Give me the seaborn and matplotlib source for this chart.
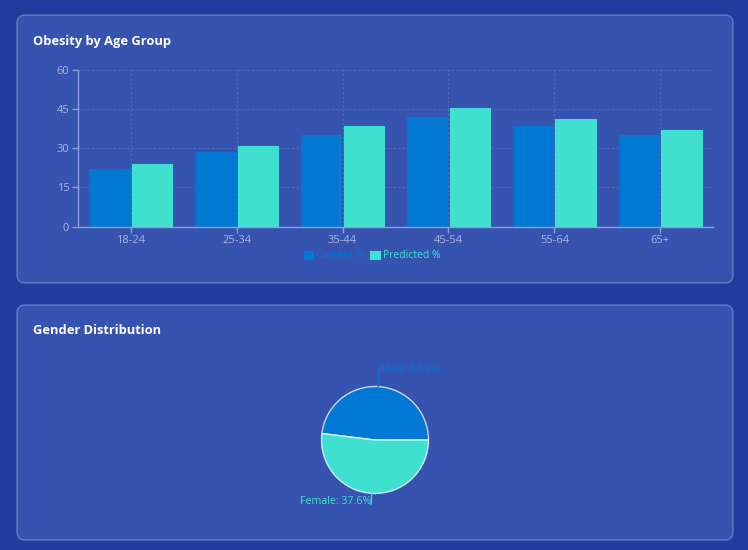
import numpy as np
import pandas as pd
import matplotlib
matplotlib.use("Agg")
import matplotlib.pyplot as plt
from matplotlib.patches import FancyBboxPatch
import seaborn as sns

# ---- data ----
age_groups = ["18-24", "25-34", "35-44", "45-54", "55-64", "65+"]
current_pct = [22.1, 28.4, 35.0, 41.8, 38.5, 34.9]
predicted_pct = [24.0, 30.8, 38.5, 45.4, 41.0, 36.8]
series_names = ["Current %", "Predicted %"]
y_ticks = [0, 15, 30, 45, 60]

gender_labels = ["Male", "Female"]
gender_values = [34.8, 37.6]

# ---- style ----
sns.set_theme(style="white")
plt.rcParams["font.family"] = ["Open Sans", "DejaVu Sans"]

BG = "#1f3c9e"
PANEL = "#3753b0"
C_CUR = "#0078d4"
C_PRED = "#40e0d0"
TICK_C = "#a9b5de"
SPINE_C = "#8d9dd8"

W, H = 748, 550
fig = plt.figure(figsize=(W / 100, H / 100), dpi=100, facecolor=BG)

# background axes in pixel coordinates
bg = fig.add_axes([0, 0, 1, 1], zorder=0)
bg.set_xlim(0, W)
bg.set_ylim(H, 0)
bg.axis("off")
bg.set_facecolor(BG)
for (x0, y0, w, h) in [(17, 15, 716, 268), (17, 305, 716, 235)]:
    bg.add_patch(FancyBboxPatch((x0, y0), w, h,
                                boxstyle="round,pad=0,rounding_size=8",
                                fc=PANEL, ec=(1, 1, 1, 0.28), lw=1))
bg.text(33, 41, "Obesity by Age Group", color="white", fontsize=9.3,
        fontweight="bold", va="center", ha="left")
bg.text(33, 331, "Gender Distribution", color="white", fontsize=9.3,
        fontweight="bold", va="center", ha="left")

# ---- bar chart ----
df = pd.DataFrame({
    "age": age_groups * 2,
    "value": current_pct + predicted_pct,
    "series": [series_names[0]] * len(age_groups) + [series_names[1]] * len(age_groups),
})

ax = fig.add_axes([77.7 / W, 1 - 226.7 / H, (713.3 - 77.7) / W, (226.7 - 69.5) / H], zorder=1)
ax.set_facecolor("none")
sns.barplot(data=df, x="age", y="value", hue="series", order=age_groups,
            hue_order=series_names, palette=[C_CUR, C_PRED], width=0.8, gap=0.05,
            saturation=1, ax=ax, legend=True, linewidth=0.8)
for i, cont in enumerate(ax.containers):
    col = [C_CUR, C_PRED][i]
    for p in cont:
        p.set_edgecolor(col)
        p.set_zorder(3)

ax.set_xlim(-0.5, len(age_groups) - 0.5)
ax.set_ylim(0, 60)
ax.set_yticks(y_ticks)
ax.set_xlabel("")
ax.set_ylabel("")
ax.grid(True, color="white", alpha=0.13, linestyle=(0, (2, 2)), linewidth=0.8)
ax.set_axisbelow(True)
ax.axvline(len(age_groups) - 0.5, color="white", alpha=0.13, linestyle=(0, (2, 2)),
           linewidth=0.8, zorder=0.5)
for s in ["top", "right"]:
    ax.spines[s].set_visible(False)
for s in ["left", "bottom"]:
    ax.spines[s].set_color(SPINE_C)
    ax.spines[s].set_linewidth(1)
    ax.spines[s].set_zorder(4)
ax.tick_params(axis="both", colors=SPINE_C, labelcolor=TICK_C, labelsize=8,
               length=4, width=1, pad=2, left=True, bottom=True)

handles, labels = ax.get_legend_handles_labels()
ax.get_legend().remove()
leg = ax.legend(handles, labels, loc="center", bbox_to_anchor=(372 / W, 1 - 256 / H),
                bbox_transform=fig.transFigure, ncol=2, frameon=False,
                handlelength=0.9, handleheight=0.7, handletextpad=0.3,
                columnspacing=0.5, fontsize=7.5)
for t, h, c in zip(leg.get_texts(), leg.legend_handles, [C_CUR, C_PRED]):
    t.set_color(c)
    h.set_edgecolor(c)
    h.set_facecolor(c)

# ---- pie chart ----
cx, cy, r = 375, 440, 53.5
pax = fig.add_axes([(cx - r) / W, 1 - (cy + r) / H, 2 * r / W, 2 * r / H], zorder=1)
wedges, _ = pax.pie(gender_values, colors=[C_CUR, C_PRED], startangle=0,
                    counterclock=True, radius=1,
                    wedgeprops=dict(edgecolor=(1, 1, 1, 0.75), linewidth=1))
for wdg in wedges:
    wdg.set_clip_on(False)
pax.set_xlim(-1, 1)
pax.set_ylim(-1, 1)
pax.set_aspect("equal")

total = sum(gender_values)
label_dist = [1.32, 1.16]
start = 0.0
for i, (lab, val) in enumerate(zip(gender_labels, gender_values)):
    span = 360.0 * val / total
    mid = np.deg2rad(start + span / 2)
    start += span
    ex, ey = np.cos(mid), np.sin(mid)
    d = label_dist[i]
    col = [C_CUR, C_PRED][i]
    pax.plot([ex, ex * (d + 0.05)], [ey, ey * (d + 0.05)], color=col, lw=0.9, clip_on=False)
    pax.text(ex * d + (0.02 if ex > 0 else 0.0), ey * d, f"{lab}: {val}%",
             color=col, fontsize=7.7, ha="left" if ex > 0 else "right", va="center",
             clip_on=False)

fig.savefig("out.png", dpi=100, facecolor=BG)
